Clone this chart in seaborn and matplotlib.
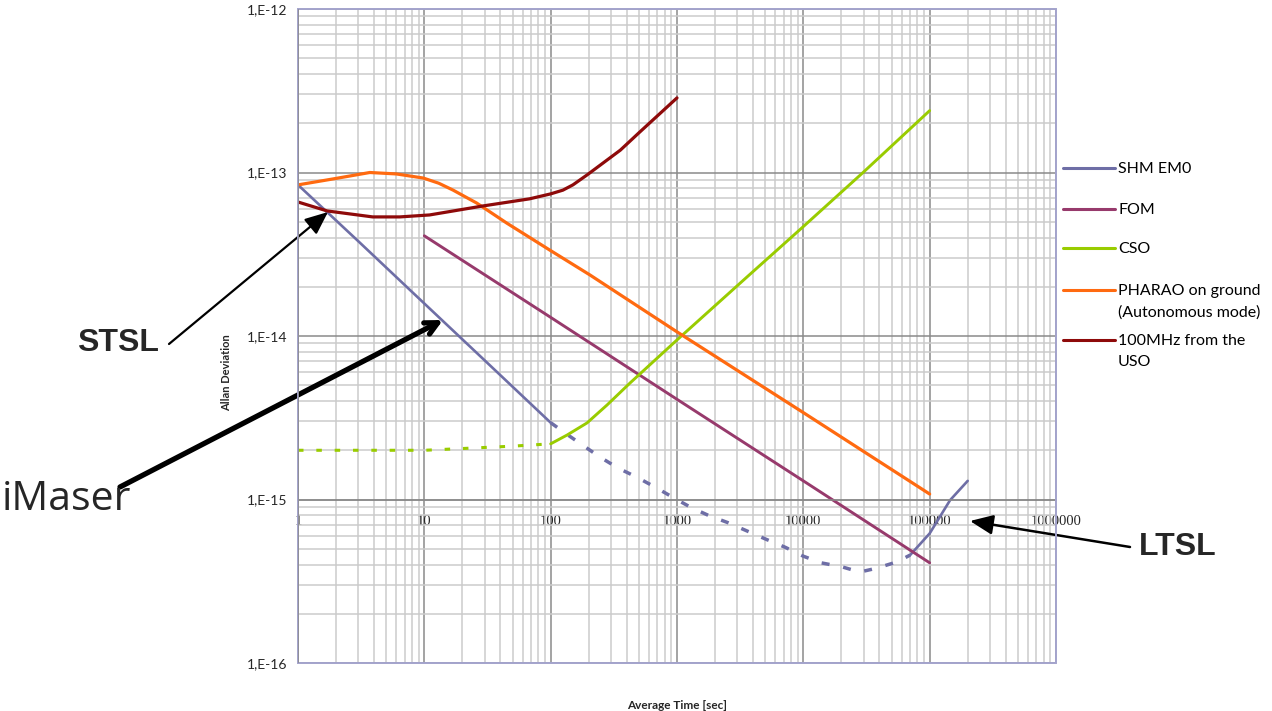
import numpy as np
import pandas as pd
import matplotlib
matplotlib.use("Agg")
import matplotlib.pyplot as plt
from matplotlib.ticker import LogLocator, FixedLocator, FixedFormatter, NullFormatter
from matplotlib.patches import Rectangle
from matplotlib.lines import Line2D
import seaborn as sns

# ---- Allan deviation data (tau in seconds) ----
shm_tau_short = [1, 3, 10, 30, 100]
shm_adev_short = [8.4e-14, 3.8e-14, 1.58e-14, 7.1e-15, 2.95e-15]

shm_tau_mid = [100, 137, 187, 245, 340, 480, 685, 950, 1270, 1770, 2550, 5100,
               7200, 10000, 13800, 20300, 28000, 38000, 55000, 70000]
shm_adev_mid = [2.95e-15, 2.48e-15, 2.1e-15, 1.82e-15, 1.56e-15, 1.37e-15, 1.18e-15,
                1.02e-15, 9.0e-16, 8.0e-16, 7.2e-16, 5.7e-16, 5.1e-16, 4.5e-16,
                4.1e-16, 3.87e-16, 3.6e-16, 3.8e-16, 4.15e-16, 4.57e-16]

shm_tau_long = [70000, 100000, 145000, 200000]
shm_adev_long = [4.57e-16, 6.2e-16, 9.9e-16, 1.3e-15]

fom_tau = [10, 100, 1000, 10000, 100000]
fom_adev = [4.1e-14, 1.3e-14, 4.1e-15, 1.3e-15, 4.1e-16]

cso_tau_short = [1, 10, 20, 50, 100]
cso_adev_short = [2.0e-15, 2.0e-15, 2.05e-15, 2.12e-15, 2.19e-15]
cso_tau_long = [100, 135, 194, 279, 425, 1000, 3590, 10000, 29700, 100000]
cso_adev_long = [2.19e-15, 2.48e-15, 2.94e-15, 3.78e-15, 5.16e-15, 9.46e-15,
                 2.3e-14, 4.67e-14, 1.0e-13, 2.39e-13]

pharao_tau = [1, 2, 3.7, 6, 9.8, 13, 16.9, 26, 45, 98, 205, 1000, 10000, 100000]
pharao_adev = [8.4e-14, 9.2e-14, 1.0e-13, 9.8e-14, 9.25e-14, 8.6e-14, 7.8e-14, 6.5e-14,
               4.9e-14, 3.36e-14, 2.36e-14, 1.06e-14, 3.4e-15, 1.08e-15]

uso_tau = [1, 1.7, 3.9, 6.4, 11, 29, 68, 100, 125, 150, 194, 356, 500, 1000]
uso_adev = [6.6e-14, 5.82e-14, 5.35e-14, 5.35e-14, 5.5e-14, 6.24e-14, 6.9e-14,
            7.4e-14, 7.8e-14, 8.4e-14, 9.66e-14, 1.37e-13, 1.75e-13, 2.86e-13]

series_names = ["SHM EM0", "FOM", "CSO", "PHARAO on ground\n(Autonomous mode)",
                "100MHz from the\nUSO"]
series_colors = ["#6E6EA6", "#973A6C", "#99CC00", "#FF6A10", "#8E0A0A"]

x_ticks = [1, 10, 100, 1000, 10000, 100000, 1000000]
x_labels = ["1", "10", "100", "1000", "10000", "100000", "1000000"]
y_ticks = [1e-16, 1e-15, 1e-14, 1e-13, 1e-12]
y_labels = ["1,E-16", "1,E-15", "1,E-14", "1,E-13", "1,E-12"]

# ---- figure ----
sns.set_style("white")
plt.rcParams["font.family"] = ["Lato", "DejaVu Sans"]

W, H = 1272, 711
fig = plt.figure(figsize=(W / 100, H / 100), dpi=100)
ax = fig.add_axes([298 / W, 48 / H, 758 / W, 654 / H])
ax.set_xscale("log")
ax.set_yscale("log")
ax.set_xlim(1, 1e6)
ax.set_ylim(1e-16, 1e-12)

lw = 2.1
dash = (0, (2.3, 4.0))

def draw(tau, adev, color, style="-", width=lw):
    sns.lineplot(x=tau, y=adev, ax=ax, color=color, linewidth=width,
                 linestyle=style, estimator=None, sort=False, legend=False)

draw(shm_tau_short, shm_adev_short, series_colors[0], width=1.9)
draw(shm_tau_mid, shm_adev_mid, series_colors[0], style=dash, width=2.5)
draw(shm_tau_long, shm_adev_long, series_colors[0], width=1.9)
draw(fom_tau, fom_adev, series_colors[1])
draw(cso_tau_short, cso_adev_short, series_colors[2], style=(0, (1.8, 4.2)), width=2.2)
draw(cso_tau_long, cso_adev_long, series_colors[2])
draw(pharao_tau, pharao_adev, series_colors[3], width=2.3)
draw(uso_tau, uso_adev, series_colors[4], width=2.3)

# grid
ax.xaxis.set_major_locator(FixedLocator(x_ticks))
ax.xaxis.set_major_formatter(FixedFormatter(x_labels))
ax.yaxis.set_major_locator(FixedLocator(y_ticks))
ax.yaxis.set_major_formatter(FixedFormatter(y_labels))
ax.xaxis.set_minor_locator(LogLocator(base=10, subs=np.arange(2, 10), numticks=100))
ax.yaxis.set_minor_locator(LogLocator(base=10, subs=np.arange(2, 10), numticks=100))
ax.xaxis.set_minor_formatter(NullFormatter())
ax.yaxis.set_minor_formatter(NullFormatter())
ax.grid(which="minor", color="#cbcbcb", linewidth=1.1)
ax.grid(which="major", color="#8a8a8a", linewidth=1.1)
ax.set_axisbelow(True)

# horizontal axis crosses at 1E-15
ax.spines["bottom"].set_position(("data", 1e-15))
ax.spines["bottom"].set_color("#8a8a8a")
ax.spines["bottom"].set_linewidth(1.1)
for s in ["top", "right", "left"]:
    ax.spines[s].set_visible(False)
ax.add_patch(Rectangle((0, 0), 1, 1, transform=ax.transAxes, fill=False,
                       edgecolor="#a3a3cc", linewidth=1.4, clip_on=False, zorder=5))
ax.axvline(1, color="#8a8a8a", linewidth=1.1, zorder=5.5)

ax.tick_params(axis="x", which="both", length=0, pad=11)
ax.tick_params(axis="y", which="major", length=6, width=1, color="#8a8a8a", pad=1.5)
ax.tick_params(axis="y", which="minor", length=0)
for t in ax.get_xticklabels():
    t.set_fontfamily("Liberation Serif")
    t.set_fontsize(10.5)
for t in ax.get_yticklabels():
    t.set_fontsize(10)

ax.set_xlabel("Average Time [sec]", fontsize=8.5, fontweight="bold")
ax.xaxis.set_label_coords(0.5, (663 - 700) / 654)
ax.set_ylabel("Allan Deviation", fontsize=8, fontweight="bold")
ax.yaxis.set_label_coords((232 - 298) / 758, (663 - 373) / 654)

# legend to the right of the plot
legend_rows = [168, 209, 248, 290, 340]
for name, color, yy in zip(series_names, series_colors, legend_rows):
    fig.add_artist(Line2D([1063 / W, 1115 / W], [1 - yy / H, 1 - yy / H],
                          color=color, linewidth=2.2, transform=fig.transFigure))
    fig.text(1118 / W, 1 - (yy - 6) / H, name, fontsize=11.5, va="top",
             ha="left", linespacing=1.65, color="black")

# annotations
def label_arrow(tail, tip, style, lw_a, head):
    ax.annotate("", xy=(tip[0], H - tip[1]), xycoords="figure pixels",
                xytext=(tail[0], H - tail[1]), textcoords="figure pixels",
                arrowprops=dict(arrowstyle=style + head, color="black",
                                linewidth=lw_a, shrinkA=0, shrinkB=0),
                annotation_clip=False)

fig.text(118 / W, 1 - 343 / H, "STSL", fontsize=23, fontweight="bold",
         family="Liberation Sans", ha="center", va="center")
label_arrow((169, 344), (328, 212), "-|>", 1.6, ",head_length=1.4,head_width=0.6")

fig.text(2 / W, 1 - 500 / H, "iMaser", fontsize=29.5, family="Open Sans",
         ha="left", va="center")
label_arrow((120, 487), (443, 320), "->", 3.8, ",head_length=0.9,head_width=0.45")

fig.text(1178 / W, 1 - 547 / H, "LTSL", fontsize=23, fontweight="bold",
         family="Liberation Sans", ha="center", va="center")
label_arrow((1130, 547), (970, 521), "-|>", 1.8, ",head_length=1.4,head_width=0.6")

fig.savefig("out.png", dpi=100)
